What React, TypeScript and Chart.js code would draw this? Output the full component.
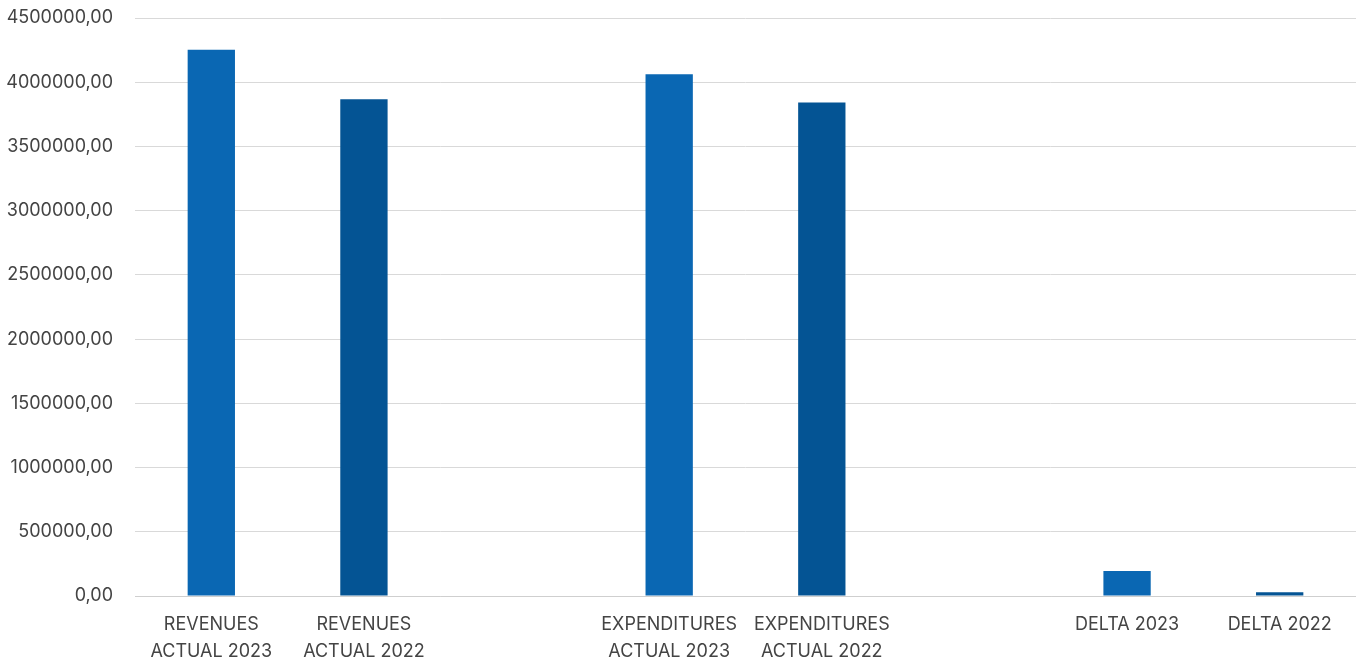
import React, { useEffect, useRef } from "react";
import { Chart, registerables } from "chart.js";

Chart.register(...registerables);

const categories: (string | string[])[] = [
  ["REVENUES", "ACTUAL 2023"],
  ["REVENUES", "ACTUAL 2022"],
  "",
  ["EXPENDITURES", "ACTUAL 2023"],
  ["EXPENDITURES", "ACTUAL 2022"],
  "",
  "DELTA 2023",
  "DELTA 2022",
];
const values: (number | null)[] = [4252000, 3868000, null, 4063000, 3842000, null, 195000, 29000];
const barColors = ["#0A67B3", "#045494", "#0A67B3", "#0A67B3", "#045494", "#0A67B3", "#0A67B3", "#045494"];

const fmt = (v: number) => v.toFixed(2).replace(".", ",");

export default function App() {
  const ref = useRef<HTMLCanvasElement>(null);
  useEffect(() => {
    if (!ref.current) return;
    const yFont = { family: "Inter, 'Liberation Sans', Arial, sans-serif", size: 18 };
    const xFont = { family: "Inter, 'Liberation Sans', Arial, sans-serif", size: 18, lineHeight: 1.5 };
    const chart = new Chart(ref.current, {
      type: "bar",
      data: {
        labels: categories,
        datasets: [
          {
            data: values,
            backgroundColor: barColors,
            categoryPercentage: 1,
            barPercentage: 0.31,
          },
        ],
      },
      options: {
        animation: false,
        responsive: false,
        maintainAspectRatio: false,
        layout: { padding: { top: 18, right: 0, left: 0, bottom: 0 } },
        plugins: { legend: { display: false }, tooltip: { enabled: false } },
        scales: {
          x: {
            grid: { display: false, drawTicks: false },
            border: { color: "#cfcfcf", width: 1 },
            ticks: { color: "#444", font: xFont, padding: 15, maxRotation: 0, autoSkip: false },
            afterFit: (s: any) => { s.height = 68; s.paddingLeft = 0; s.paddingRight = 0; },
          },
          y: {
            min: 0,
            max: 4500000,
            grid: { color: "#d9d9d9", drawTicks: false },
            border: { display: false },
            ticks: {
              stepSize: 500000,
              color: "#444",
              font: yFont,
              padding: 22,
              callback: (v: any) => fmt(Number(v)),
            },
            afterFit: (s: any) => { s.width = 135; s.paddingTop = 0; s.paddingBottom = 0; },
          },
        },
      },
    });
    return () => chart.destroy();
  }, []);
  return (
    <div style={{ position: "absolute", left: 0, top: 0, width: 1356, height: 664, background: "#fff" }}>
      <canvas ref={ref} width={1356} height={664} />
    </div>
  );
}
